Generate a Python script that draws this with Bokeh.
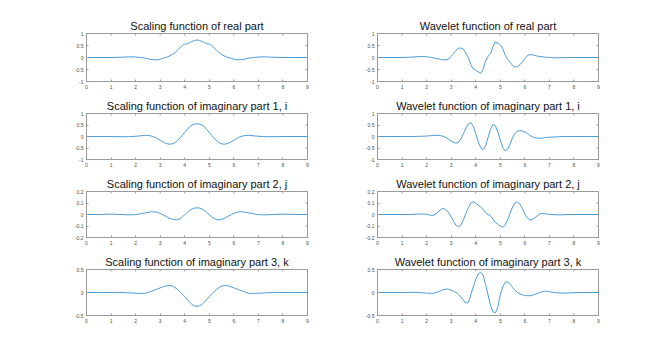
from bokeh.plotting import figure
from bokeh.layouts import column, row
from bokeh.models import Range1d, FixedTicker, NumeralTickFormatter
from bokeh.embed import file_html
from bokeh.resources import INLINE

# ---- data ----
X = [0, 0.5, 1.0, 1.2, 1.4, 1.6, 1.8,
     2.0, 2.1, 2.2, 2.3, 2.4, 2.5, 2.6, 2.7, 2.8, 2.9,
     3.0, 3.1, 3.2, 3.3, 3.4, 3.5, 3.6, 3.7, 3.8, 3.9,
     4.0, 4.1, 4.2, 4.3, 4.4, 4.5, 4.6, 4.7, 4.8, 4.9,
     5.0, 5.1, 5.2, 5.3, 5.4, 5.5, 5.6, 5.7, 5.8, 5.9,
     6.0, 6.1, 6.2, 6.3, 6.4, 6.5, 6.6, 6.7, 6.8, 6.9,
     7.0,
     7.2, 7.4, 7.6, 7.8, 8.0, 8.5, 9.0]

scaling_real = [0, 0, 0, 0.005, 0.01, 0.02, 0.03,
                0.02, 0.01, 0.0, -0.01, -0.03, -0.05, -0.08, -0.09, -0.1, -0.09,
                -0.07, -0.04, -0.01, 0.03, 0.07, 0.13, 0.2, 0.3, 0.4, 0.5,
                0.56, 0.57, 0.62, 0.67, 0.71, 0.73, 0.71, 0.67, 0.62, 0.57,
                0.56, 0.5, 0.4, 0.3, 0.2, 0.13, 0.07, 0.03, -0.01, -0.04,
                -0.07, -0.09, -0.1, -0.09, -0.08, -0.05, -0.03, -0.01, 0.0, 0.01,
                0.02,
                0.03, 0.02, 0.01, 0.005, 0, 0, 0]

scaling_imag1 = [0, 0, 0, -0.005, -0.01, -0.01, -0.005,
                 0.01, 0.02, 0.03, 0.04, 0.05, 0.045, 0.03, 0.0, -0.04, -0.1,
                 -0.16, -0.22, -0.28, -0.32, -0.33, -0.32, -0.27, -0.18, -0.07, 0.05,
                 0.18, 0.3, 0.42, 0.5, 0.54, 0.55, 0.54, 0.5, 0.42, 0.3,
                 0.18, 0.05, -0.07, -0.18, -0.27, -0.32, -0.33, -0.32, -0.28, -0.22,
                 -0.16, -0.1, -0.04, 0.0, 0.03, 0.045, 0.05, 0.04, 0.03, 0.02,
                 0.01,
                 -0.005, -0.01, -0.01, -0.005, 0, 0, 0]

scaling_imag2 = [0, 0, 0.003, 0.002, 0.0, -0.002, -0.003,
                 -0.001, 0.002, 0.006, 0.01, 0.014, 0.018, 0.022, 0.024, 0.023, 0.018,
                 0.01, 0.0, -0.012, -0.024, -0.035, -0.042, -0.046, -0.045, -0.036, -0.02,
                 -0.002, 0.018, 0.035, 0.048, 0.056, 0.058, 0.056, 0.048, 0.035, 0.018,
                 -0.002, -0.02, -0.036, -0.045, -0.046, -0.042, -0.035, -0.024, -0.012, 0.0,
                 0.01, 0.018, 0.023, 0.024, 0.022, 0.018, 0.014, 0.01, 0.006, 0.002,
                 -0.001,
                 -0.003, -0.002, 0.0, 0.002, 0.003, 0, 0]

scaling_imag3 = [0, 0, 0, 0.002, 0.0, -0.005, -0.01,
                 -0.015, -0.018, -0.02, -0.02, -0.015, 0.0, 0.02, 0.04, 0.06, 0.08,
                 0.1, 0.12, 0.14, 0.15, 0.15, 0.14, 0.11, 0.07, 0.02, -0.03,
                 -0.09, -0.15, -0.21, -0.26, -0.29, -0.3, -0.29, -0.26, -0.21, -0.15,
                 -0.09, -0.03, 0.02, 0.07, 0.11, 0.14, 0.15, 0.15, 0.14, 0.12,
                 0.1, 0.08, 0.06, 0.04, 0.02, 0.0, -0.015, -0.02, -0.02, -0.018,
                 -0.015,
                 -0.01, -0.005, 0.0, 0.002, 0, 0, 0]

wavelet_real = [0, 0, 0, 0.005, 0.015, 0.03, 0.04,
                0.03, 0.02, 0.0, -0.02, -0.04, -0.06, -0.08, -0.1, -0.1, -0.06,
                0.05, 0.17, 0.3, 0.38, 0.4, 0.35, 0.18, 0.0, -0.3, -0.48,
                -0.53, -0.6, -0.66, -0.5, -0.15, 0.05, 0.15, 0.45, 0.65, 0.6,
                0.53, 0.38, 0.1, -0.08, -0.2, -0.33, -0.4, -0.38, -0.3, -0.18,
                -0.05, 0.08, 0.12, 0.11, 0.09, 0.06, 0.04, 0.03, 0.02, 0.01,
                0.0,
                -0.01, -0.01, -0.005, 0.0, 0, 0, 0]

wavelet_imag1 = [0, 0, 0, 0, 0.0, 0.005, 0.01,
                 0.02, 0.03, 0.04, 0.05, 0.05, 0.045, 0.03, 0.0, -0.05, -0.12,
                 -0.2, -0.26, -0.29, -0.25, -0.1, 0.12, 0.37, 0.55, 0.6, 0.45,
                 0.12, -0.22, -0.48, -0.57, -0.42, -0.05, 0.3, 0.53, 0.47, 0.2,
                 -0.15, -0.48, -0.63, -0.55, -0.32, -0.05, 0.14, 0.23, 0.25, 0.24,
                 0.2, 0.13, 0.05, -0.01, -0.05, -0.07, -0.08, -0.07, -0.05, -0.04,
                 -0.03,
                 -0.02, -0.01, 0.0, 0.0, 0, 0, 0]

wavelet_imag2 = [0, 0, 0, 0.0, 0.001, 0.003, 0.005,
                 0.002, -0.004, -0.008, -0.005, 0.008, 0.03, 0.048, 0.052, 0.04, 0.015,
                 -0.02, -0.06, -0.095, -0.108, -0.09, -0.045, 0.01, 0.06, 0.1, 0.11,
                 0.1, 0.08, 0.065, 0.045, 0.015, 0.0, -0.01, -0.04, -0.07, -0.085,
                 -0.1, -0.108, -0.09, -0.045, 0.01, 0.065, 0.1, 0.11, 0.09, 0.05,
                 0.005, -0.03, -0.047, -0.045, -0.03, -0.012, 0.003, 0.008, 0.007, 0.004,
                 0.001,
                 -0.002, -0.003, -0.002, 0.0, 0, 0, 0]

wavelet_imag3 = [0, 0, 0, 0.002, 0.004, 0.002, -0.005,
                 -0.012, -0.018, -0.02, -0.015, 0.0, 0.02, 0.045, 0.065, 0.075, 0.07,
                 0.05, 0.025, 0.0, -0.04, -0.1, -0.17, -0.23, -0.22, -0.05, 0.12,
                 0.28, 0.4, 0.44, 0.38, 0.18, -0.05, -0.28, -0.42, -0.44, -0.32,
                 -0.05, 0.12, 0.22, 0.23, 0.18, 0.11, 0.05, 0.0, -0.03, -0.05,
                 -0.065, -0.07, -0.07, -0.06, -0.04, -0.02, 0.0, 0.015, 0.03, 0.025,
                 0.015,
                 0.0, -0.01, -0.015, -0.01, -0.005, 0, 0]

titles_left = ["Scaling function of real part",
               "Scaling function of imaginary part 1, i",
               "Scaling function of imaginary part 2, j",
               "Scaling function of imaginary part 3, k"]
titles_right = ["Wavelet function of real part",
                "Wavelet function of imaginary part 1, i",
                "Wavelet function of imaginary part 2, j",
                "Wavelet function of imaginary part 3, k"]
series_left = [scaling_real, scaling_imag1, scaling_imag2, scaling_imag3]
series_right = [wavelet_real, wavelet_imag1, wavelet_imag2, wavelet_imag3]
y_limits = [1.0, 1.0, 0.2, 0.5]
y_ticks = [[-1, -0.5, 0, 0.5, 1], [-1, -0.5, 0, 0.5, 1],
           [-0.2, -0.1, 0, 0.1, 0.2], [-0.5, 0, 0.5]]
x_ticks = [0, 1, 2, 3, 4, 5, 6, 7, 8, 9]

# ---- styling ----
FONT = "Liberation Sans"
LINE_COLOR = "#4b9bd9"
AX_COLOR = "#9a9a9a"
LABEL_COLOR = "#4d4d4d"
FRAME_W, FRAME_H = 221, 48
TICK = 2


def style_axis(ax, ticks):
    ax.ticker = FixedTicker(ticks=ticks)
    ax.formatter = NumeralTickFormatter(format="0.[0]")
    ax.axis_line_color = AX_COLOR
    ax.axis_line_width = 1
    ax.major_tick_line_color = AX_COLOR
    ax.major_tick_in = TICK
    ax.major_tick_out = 0
    ax.minor_tick_line_color = None
    ax.major_label_text_font = FONT
    ax.major_label_text_color = LABEL_COLOR
    ax.major_label_text_font_size = "5px"
    ax.major_label_standoff = 3


def make_panel(title, ys, lim, yt, left, right, top, bottom):
    p = figure(width=left + FRAME_W + right, height=top + FRAME_H + bottom,
               min_border_left=left, min_border_right=right,
               min_border_top=top, min_border_bottom=bottom,
               x_range=Range1d(0, 9), y_range=Range1d(-lim, lim),
               output_backend="svg", toolbar_location=None)
    # pixel-unit helper ranges for the inward ticks on the top and right edges
    p.extra_x_ranges = {"px": Range1d(0, FRAME_W)}
    p.extra_y_ranges = {"py": Range1d(0, FRAME_H)}
    p.segment(x0=x_ticks, x1=x_ticks, y0=[FRAME_H] * len(x_ticks),
              y1=[FRAME_H - TICK] * len(x_ticks), y_range_name="py",
              line_color=AX_COLOR, line_width=1)
    p.segment(x0=[FRAME_W] * len(yt), x1=[FRAME_W - TICK] * len(yt), y0=yt, y1=yt,
              x_range_name="px", line_color=AX_COLOR, line_width=1)
    p.line(X, ys, line_color=LINE_COLOR, line_width=1)
    p.xgrid.visible = False
    p.ygrid.visible = False
    p.outline_line_color = AX_COLOR
    p.background_fill_color = "white"
    p.border_fill_color = "white"
    style_axis(p.xaxis[0], x_ticks)
    style_axis(p.yaxis[0], yt)
    p.title.text = title
    p.title.align = "center"
    p.title.text_font = FONT
    p.title.text_font_size = "11px"
    p.title.text_font_style = "normal"
    p.title.text_color = "#111111"
    p.title.standoff = 3
    return p


rows = []
for i in range(4):
    top = 33 if i == 0 else 15
    pl = make_panel(titles_left[i], series_left[i], y_limits[i], y_ticks[i],
                    86, 10, top, 15)
    pr = make_panel(titles_right[i], series_right[i], y_limits[i], y_ticks[i],
                    60, 20, top, 15)
    rows.append(row(pl, pr, spacing=0))

layout = column(*rows, spacing=0)

open("out.html", "w").write(file_html(layout, INLINE))
